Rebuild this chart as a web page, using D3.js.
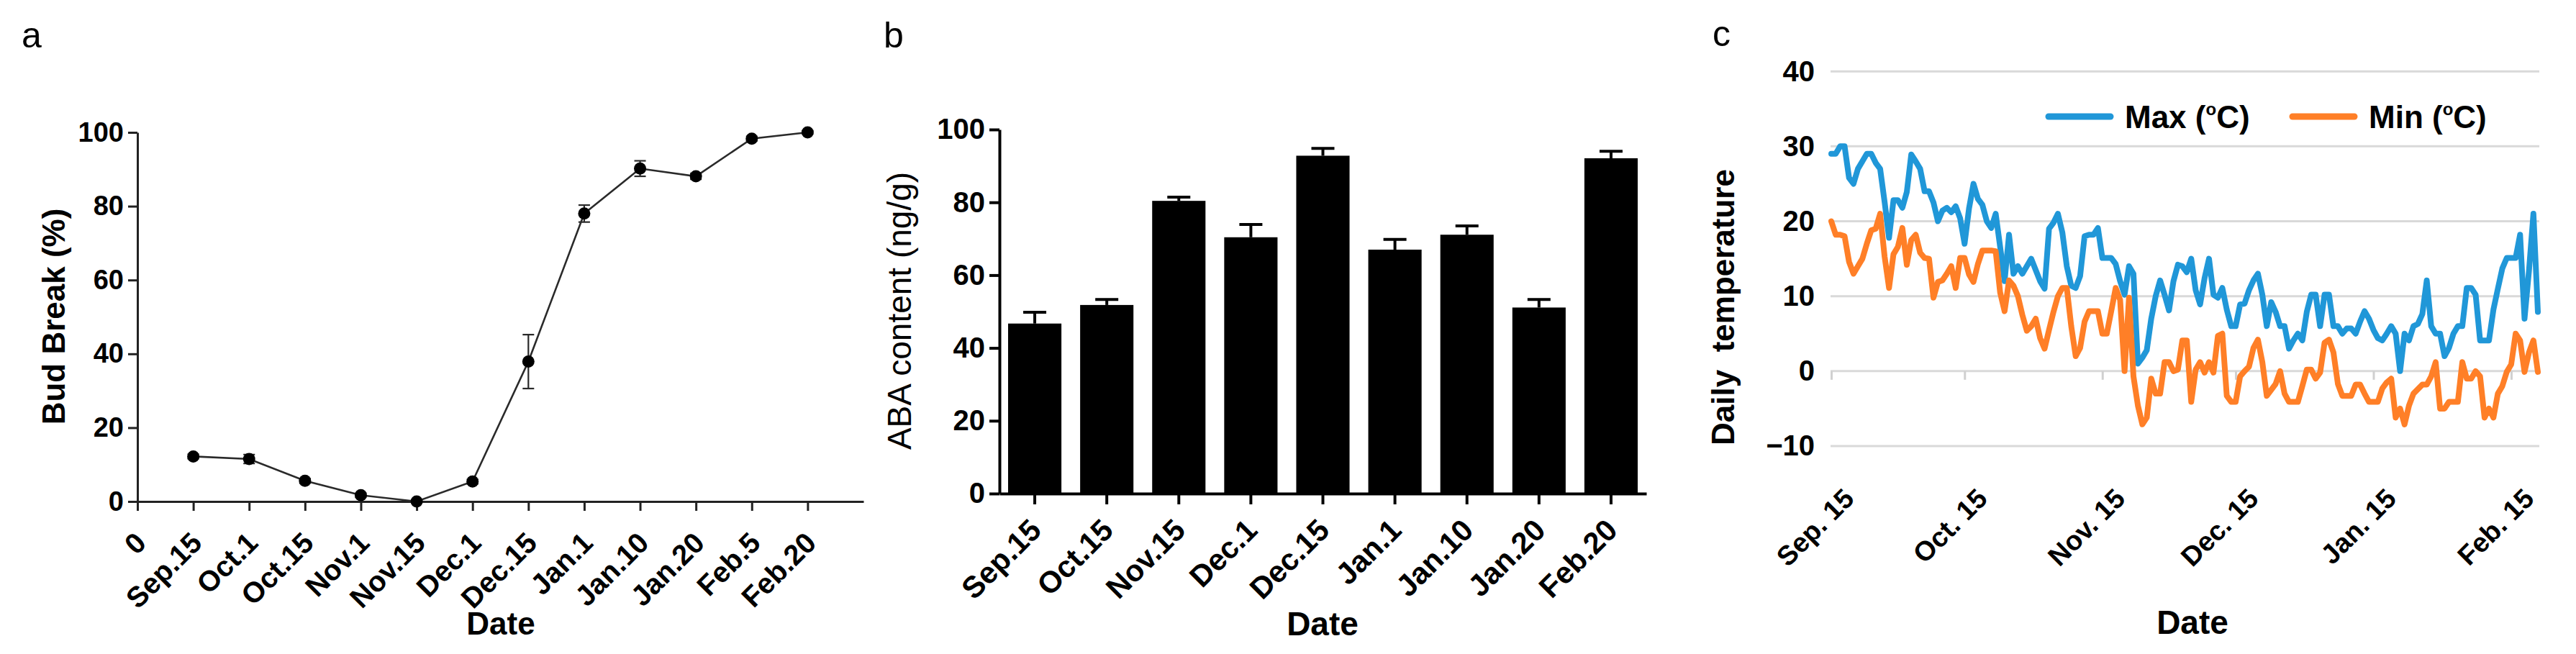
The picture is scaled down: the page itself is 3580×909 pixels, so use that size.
<!DOCTYPE html>
<html>
<head>
<meta charset="utf-8">
<script src="https://cdn.jsdelivr.net/npm/d3@7"></script>
<style>
  html, body { margin: 0; padding: 0; background: #fff; }
  svg { display: block; }
  text { font-family: "Liberation Sans", Arial, Helvetica, sans-serif; }
</style>
</head>
<body>
<svg id="chart" width="3580" height="909"></svg>
<script>
// ---------- Panel a: bud break ----------
const budDates = ["Sep.15","Oct.1","Oct.15","Nov.1","Nov.15","Dec.1","Dec.15","Jan.1","Jan.10","Jan.20","Feb.5","Feb.20"];
const budBreak = [12.2, 11.5, 5.6, 1.7, 0, 5.4, 37.9, 78, 90.2, 88.1, 98.3, 100];
const budErr   = [0.6, 1.2, 0.6, 0.5, 0.3, 0.6, 7.3, 2.3, 2.1, 0.8, 0.6, 0.4];
const budYTicks = [0, 20, 40, 60, 80, 100];

// ---------- Panel b: ABA content ----------
const abaDates  = ["Sep.15","Oct.15","Nov.15","Dec.1","Dec.15","Jan.1","Jan.10","Jan.20","Feb.20"];
const abaValues = [46.7, 51.8, 80.4, 70.4, 92.8, 67, 71.1, 51.1, 92.1];
const abaErr    = [3.1, 1.5, 1.0, 3.5, 2.0, 2.8, 2.4, 2.2, 1.9];
const abaYTicks = [0, 20, 40, 60, 80, 100];

// ---------- Panel c: daily temperature (Sep 15 .. Feb 21) ----------
const tempStart = "2017-09-15";
const tempEnd   = "2018-02-21";
const maxTemp = [
  29, 29, 30, 30, 25.8, 25, 27, 28, 29, 29,
  27.8, 27, 22.6, 17.8, 22.8, 22.8, 21.8, 23.9, 28.9, 28,
  27, 24, 24, 22.5, 20, 21.4, 21.8, 21.2, 22, 20.4,
  17, 21.7, 25, 23, 22.2, 20, 19.1, 21, 16.6, 12,
  18.2, 13, 14, 13, 14, 15, 13.5, 12, 11, 19,
  19.8, 21, 18.5, 14, 11.4, 11.1, 12.7, 18, 18.2, 18.2,
  19.1, 15.1, 15.1, 15.1, 14.3, 12, 10.2, 14, 13, 1,
  1.8, 2.8, 7, 10, 12.1, 10.2, 8.1, 12, 14.2, 14,
  13.2, 15, 10.8, 8.9, 12.4, 15, 10.2, 9.8, 11.1, 8.2,
  6, 6, 8.9, 9, 10.8, 12.1, 13, 10.2, 6, 9.2,
  7.9, 6, 6, 3, 4.1, 5, 4.1, 7.9, 10.2, 10.2,
  6, 10.2, 10.2, 6, 6, 5, 5.7, 5.7, 5, 6.6,
  8, 7, 5.5, 4.4, 4.1, 5, 6, 5, 0, 5,
  4.1, 6, 6.3, 7.6, 12.1, 6, 5, 5, 2, 3.1,
  5, 6, 6, 11.1, 11.1, 10.2, 4.1, 4.1, 4.1, 8.2,
  11, 13.7, 15.1, 15.1, 15.1, 18.2, 7, 13.4, 21, 7.9
];
const minTemp = [
  20, 18.2, 18.2, 18, 14.6, 13, 14, 15, 17, 18.8,
  19, 21, 15.3, 11.1, 15.6, 16.6, 19.1, 14.2, 17.5, 18.2,
  15.8, 15.1, 15, 9.8, 11.9, 12.1, 13, 14, 11.1, 15.1,
  15.1, 12.9, 11.9, 14.3, 16.1, 16.1, 16.1, 16, 10.5, 8,
  12.1, 11.4, 10, 7.5, 5.4, 6, 7, 4.4, 3, 5.5,
  7.9, 10, 11.1, 11.1, 6, 2, 3.1, 6.6, 8, 8,
  8, 5, 5, 8, 11.1, 9.5, 0, 9.8, -0.7, -4.6,
  -7.1, -6.2, -1, -3, -3, 1.2, 1.2, 0, 0.2, 4.1,
  4.1, -4.1, 0.2, 1.2, -0.2, 1.2, -0.2, 4.7, 5, -3.3,
  -4.1, -4.1, -0.7, 0, 0.6, 3.1, 4.2, 1.2, -3.3, -2.5,
  -1.7, 0, -3, -4.1, -4.1, -4.1, -2, 0.2, 0.2, -1,
  -0.2, 3.8, 4.2, 2.5, -1.7, -3.3, -3.3, -3.3, -1.8, -1.8,
  -3, -4.1, -4.1, -4.1, -2.3, -1.5, -1, -6.2, -5, -7.1,
  -4.6, -3, -2.4, -1.8, -1.8, -0.7, 1.2, -5, -5, -4.1,
  -4.1, -4.1, 1.2, -1, -1, 0, -0.7, -6.2, -5, -6.2,
  -3, -2, -0.1, 0.9, 5, 4.1, -0.1, 2.5, 4.1, -0.1
];
const tempTickDates  = ["2017-09-15","2017-10-15","2017-11-15","2017-12-15","2018-01-15","2018-02-15"];
const tempTickLabels = ["Sep. 15","Oct. 15","Nov. 15","Dec. 15","Jan. 15","Feb. 15"];
const tempYTicks = [-10, 0, 10, 20, 30, 40];
const seriesNames = ["Max", "Min"];
const seriesColors = ["#2097d8", "#ff7f27"];

// ================= drawing =================
const svg = d3.select("#chart");
svg.append("rect").attr("width", 3580).attr("height", 909).attr("fill", "#fff");
const parse = d3.timeParse("%Y-%m-%d");

function styleAxis(g, color, width) {
  g.selectAll("path.domain").attr("stroke", color).attr("stroke-width", width);
  g.selectAll(".tick line").attr("stroke", color).attr("stroke-width", width);
  g.selectAll("text").attr("fill", "#000").attr("font-family", '"Liberation Sans", Arial, sans-serif');
}

// ---------- Panel a ----------
{
  const x = d3.scaleLinear().domain([0, 13]).range([191, 1200]);
  const y = d3.scaleLinear().domain([0, 100]).range([697, 184]);
  const g = svg.append("g");

  const xAxis = d3.axisBottom(x)
    .tickValues(d3.range(0, budDates.length + 1))
    .tickFormat(i => i === 0 ? "0" : budDates[i - 1])
    .tickSizeInner(13).tickSizeOuter(0);
  const gx = g.append("g").attr("transform", `translate(0,${y(0)})`).call(xAxis);
  styleAxis(gx, "#222", 3);
  gx.selectAll("text")
    .attr("font-size", 40).attr("font-weight", "bold")
    .attr("text-anchor", "end").attr("x", 0).attr("y", 0).attr("dy", "0.35em")
    .attr("transform", "translate(4,50) rotate(-45)");

  const yAxis = d3.axisLeft(y).tickValues(budYTicks).tickSizeInner(13).tickSizeOuter(0).tickPadding(6);
  const gy = g.append("g").attr("transform", `translate(${x(0)},0)`).call(yAxis);
  styleAxis(gy, "#222", 3);
  gy.selectAll("text").attr("font-size", 38).attr("font-weight", "bold");

  const pts = budBreak.map((v, i) => ({ x: x(i + 1), v, e: budErr[i] }));
  g.append("path").datum(pts)
    .attr("fill", "none").attr("stroke", "#2a2a2a").attr("stroke-width", 2.6)
    .attr("d", d3.line().x(d => d.x).y(d => y(d.v)));

  const eb = g.append("g").attr("stroke", "#2a2a2a").attr("stroke-width", 2.2);
  pts.forEach(d => {
    eb.append("line").attr("x1", d.x).attr("x2", d.x).attr("y1", y(d.v - d.e)).attr("y2", y(d.v + d.e));
    eb.append("line").attr("x1", d.x - 8).attr("x2", d.x + 8).attr("y1", y(d.v - d.e)).attr("y2", y(d.v - d.e));
    eb.append("line").attr("x1", d.x - 8).attr("x2", d.x + 8).attr("y1", y(d.v + d.e)).attr("y2", y(d.v + d.e));
  });
  g.append("g").selectAll("circle").data(pts).join("circle")
    .attr("cx", d => d.x).attr("cy", d => y(d.v)).attr("r", 8.5).attr("fill", "#000");

  g.append("text").attr("transform", "translate(75,440) rotate(-90)")
    .attr("text-anchor", "middle").attr("dy", "0.35em")
    .attr("font-size", 44).attr("font-weight", "bold").text("Bud Break (%)");
  g.append("text").attr("x", 696).attr("y", 882).attr("text-anchor", "middle")
    .attr("font-size", 44).attr("font-weight", "bold").text("Date");
  g.append("text").attr("x", 30).attr("y", 66).attr("font-size", 50).text("a");
}

// ---------- Panel b ----------
{
  const x = d3.scaleBand().domain(abaDates).range([1389, 2288]).paddingInner(0.26).paddingOuter(0.12);
  const y = d3.scaleLinear().domain([0, 100]).range([686, 180]);
  const g = svg.append("g");

  g.append("g").selectAll("rect").data(abaValues).join("rect")
    .attr("x", (d, i) => x(abaDates[i])).attr("width", x.bandwidth())
    .attr("y", d => y(d)).attr("height", d => y(0) - y(d)).attr("fill", "#000");

  const eb = g.append("g").attr("stroke", "#000").attr("stroke-width", 4);
  abaValues.forEach((v, i) => {
    const cx = x(abaDates[i]) + x.bandwidth() / 2;
    eb.append("line").attr("x1", cx).attr("x2", cx).attr("y1", y(v)).attr("y2", y(v + abaErr[i]));
    eb.append("line").attr("x1", cx - 16).attr("x2", cx + 16).attr("y1", y(v + abaErr[i])).attr("y2", y(v + abaErr[i]));
  });

  const xAxis = d3.axisBottom(x).tickSizeInner(15).tickSizeOuter(0);
  const gx = g.append("g").attr("transform", `translate(0,${y(0)})`).call(xAxis);
  styleAxis(gx, "#000", 4);
  gx.selectAll("text")
    .attr("font-size", 42).attr("font-weight", "bold")
    .attr("text-anchor", "end").attr("x", 0).attr("y", 0).attr("dy", "0.35em")
    .attr("transform", "translate(1,43) rotate(-45)");

  const yAxis = d3.axisLeft(y).tickValues(abaYTicks).tickSizeInner(14).tickSizeOuter(0).tickPadding(6);
  const gy = g.append("g").attr("transform", "translate(1389,0)").call(yAxis);
  styleAxis(gy, "#000", 4);
  gy.selectAll("text").attr("font-size", 40).attr("font-weight", "bold");

  g.append("text").attr("transform", "translate(1250,432) rotate(-90)")
    .attr("text-anchor", "middle").attr("dy", "0.35em")
    .attr("font-size", 46).text("ABA content (ng/g)");
  g.append("text").attr("x", 1838).attr("y", 883).attr("text-anchor", "middle")
    .attr("font-size", 46).attr("font-weight", "bold").text("Date");
  g.append("text").attr("x", 1228).attr("y", 66).attr("font-size", 50).text("b");
}

// ---------- Panel c ----------
{
  const start = parse(tempStart);
  const x = d3.scaleTime().domain([start, parse(tempEnd)]).range([2545, 3527]);
  const y = d3.scaleLinear().domain([-10, 40]).range([620, 99.2]);
  const g = svg.append("g");

  g.append("g").selectAll("line").data(tempYTicks).join("line")
    .attr("x1", 2544).attr("x2", 3529).attr("y1", d => y(d)).attr("y2", d => y(d))
    .attr("stroke", "#d9d9d9").attr("stroke-width", 3);

  const yAxis = d3.axisLeft(y).tickValues(tempYTicks).tickSize(0).tickPadding(8);
  const gy = g.append("g").attr("transform", "translate(2522,0)").call(yAxis);
  gy.select("path.domain").remove();
  gy.selectAll("text").attr("font-size", 40).attr("font-weight", "bold").attr("fill", "#000")
    .attr("x", 0).attr("text-anchor", "end");

  const tickDates = tempTickDates.map(parse);
  const xAxis = d3.axisBottom(x).tickValues(tickDates)
    .tickFormat((d, i) => tempTickLabels[i]).tickSizeInner(12).tickSizeOuter(0);
  const gx = g.append("g").attr("transform", `translate(0,${y(0)})`).call(xAxis);
  gx.select("path.domain").remove();
  gx.selectAll(".tick line").attr("stroke", "#d0d0d0").attr("stroke-width", 3);
  gx.selectAll("text").attr("fill", "#000")
    .attr("font-size", 38).attr("font-weight", "bold")
    .attr("text-anchor", "end").attr("x", 0).attr("y", 0).attr("dy", "0.35em")
    .attr("transform", `translate(24,${686 - y(0)}) rotate(-45)`);

  const series = [maxTemp, minTemp];
  const line = d3.line().x((d, i) => x(d3.timeDay.offset(start, i))).y(d => y(d));
  series.forEach((s, k) => {
    g.append("path").datum(s).attr("fill", "none")
      .attr("stroke", seriesColors[k]).attr("stroke-width", 8)
      .attr("stroke-linejoin", "round").attr("stroke-linecap", "round")
      .attr("d", line);
  });

  // legend
  const legX = [2847, 3186];
  seriesNames.forEach((name, k) => {
    g.append("line").attr("x1", legX[k]).attr("x2", legX[k] + 86).attr("y1", 162).attr("y2", 162)
      .attr("stroke", seriesColors[k]).attr("stroke-width", 9).attr("stroke-linecap", "round");
    const t = g.append("text").attr("x", legX[k] + 106).attr("y", 178)
      .attr("font-size", 44).attr("font-weight", "bold").attr("fill", "#000");
    t.append("tspan").text(name + " (");
    t.append("tspan").attr("font-size", 24).attr("dy", -18).text("o");
    t.append("tspan").attr("dy", 18).text("C)");
  });

  g.append("text").attr("transform", "translate(2395,427) rotate(-90)")
    .attr("text-anchor", "middle").attr("dy", "0.35em")
    .attr("font-size", 44).attr("font-weight", "bold").text("Daily  temperature")
    .attr("xml:space", "preserve");
  g.append("text").attr("x", 3047).attr("y", 881).attr("text-anchor", "middle")
    .attr("font-size", 46).attr("font-weight", "bold").text("Date");
  g.append("text").attr("x", 2380).attr("y", 64).attr("font-size", 50).text("c");
}
</script>
</body>
</html>
